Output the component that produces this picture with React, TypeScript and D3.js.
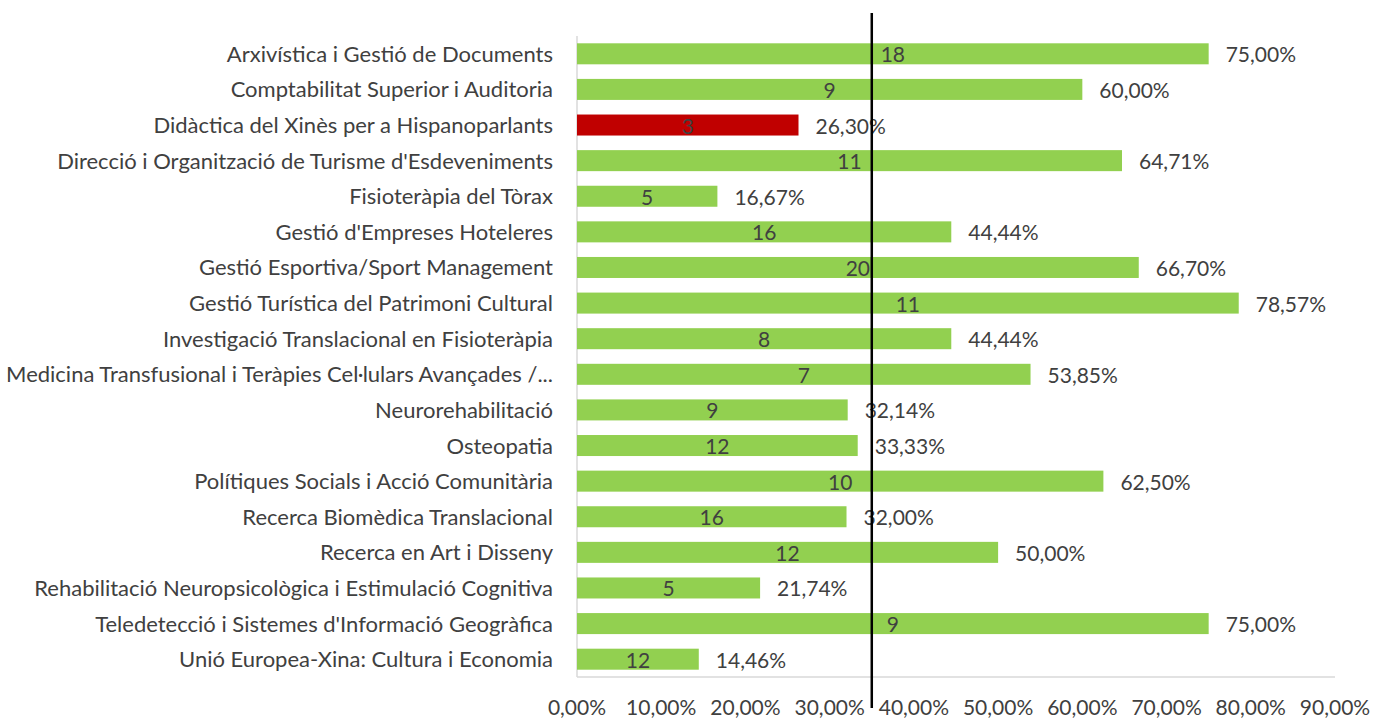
import React from "react";
import * as d3 from "d3";

const categories = [
  "Arxivística i Gestió de Documents",
  "Comptabilitat Superior i Auditoria",
  "Didàctica del Xinès per a Hispanoparlants",
  "Direcció i Organització de Turisme d'Esdeveniments",
  "Fisioteràpia del Tòrax",
  "Gestió d'Empreses Hoteleres",
  "Gestió Esportiva/Sport Management",
  "Gestió Turística del Patrimoni Cultural",
  "Investigació Translacional en Fisioteràpia",
  "Medicina Transfusional i Teràpies Cel·lulars Avançades /...",
  "Neurorehabilitació",
  "Osteopatia",
  "Polítiques Socials i Acció Comunitària",
  "Recerca Biomèdica Translacional",
  "Recerca en Art i Disseny",
  "Rehabilitació Neuropsicològica i Estimulació Cognitiva",
  "Teledetecció i Sistemes d'Informació Geogràfica",
  "Unió Europea-Xina: Cultura i Economia",
];

const percentages = [
  75.0, 60.0, 26.3, 64.71, 16.67, 44.44, 66.7, 78.57, 44.44, 53.85, 32.14,
  33.33, 62.5, 32.0, 50.0, 21.74, 75.0, 14.46,
];

const counts = [18, 9, 3, 11, 5, 16, 20, 11, 8, 7, 9, 12, 10, 16, 12, 5, 9, 12];

const highlighted = ["Didàctica del Xinès per a Hispanoparlants"];

const tickValues = [0, 10, 20, 30, 40, 50, 60, 70, 80, 90];

const referenceValue = 35;

const fmt = (v: number) => v.toFixed(2).replace(".", ",") + "%";

export default function App() {
  const W = 1373;
  const H = 718;
  const x = d3.scaleLinear().domain([0, 90]).range([577, 1335]);
  const y = d3
    .scaleBand<string>()
    .domain(categories)
    .range([36, 677])
    .paddingInner(0.41)
    .paddingOuter(0.205);

  const font = "Lato, 'Open Sans', sans-serif";
  const textColor = "#404040";
  const fs = 21;
  const catFs = 22;

  return (
    <svg
      width={W}
      height={H}
      style={{ position: "absolute", left: 0, top: 0, background: "#fff" }}
      fontFamily={font}
    >
      {/* axes */}
      <line x1={x(0)} x2={x(0)} y1={36} y2={677} stroke="#d9d9d9" strokeWidth={1.5} />
      <line x1={x(0)} x2={x(90)} y1={677} y2={677} stroke="#d9d9d9" strokeWidth={1.5} />

      {categories.map((c, i) => {
        const yy = y(c)!;
        const bw = y.bandwidth();
        const v = percentages[i];
        const cy = yy + bw / 2;
        const fill = highlighted.includes(c) ? "#C00000" : "#92D050";
        return (
          <g key={c}>
            <rect x={x(0)} y={yy} width={x(v) - x(0)} height={bw} fill={fill} />
            <text
              x={553}
              y={cy - 0.5}
              textAnchor="end"
              dominantBaseline="central"
              fontSize={catFs}
              fill={textColor}
            >
              {c}
            </text>
            <text
              x={(x(0) + x(v)) / 2}
              y={cy}
              textAnchor="middle"
              dominantBaseline="central"
              fontSize={fs}
              fill={textColor}
            >
              {counts[i]}
            </text>
            <text
              x={x(v) + 17}
              y={cy}
              textAnchor="start"
              dominantBaseline="central"
              fontSize={fs}
              fill={textColor}
            >
              {fmt(v)}
            </text>
          </g>
        );
      })}

      {tickValues.map((t) => (
        <text
          key={t}
          x={x(t)}
          y={706}
          textAnchor="middle"
          dominantBaseline="central"
          fontSize={fs}
          fill={textColor}
        >
          {fmt(t)}
        </text>
      ))}

      <line
        x1={x(referenceValue)}
        x2={x(referenceValue)}
        y1={13}
        y2={708}
        stroke="#000"
        strokeWidth={2.5}
      />
    </svg>
  );
}
